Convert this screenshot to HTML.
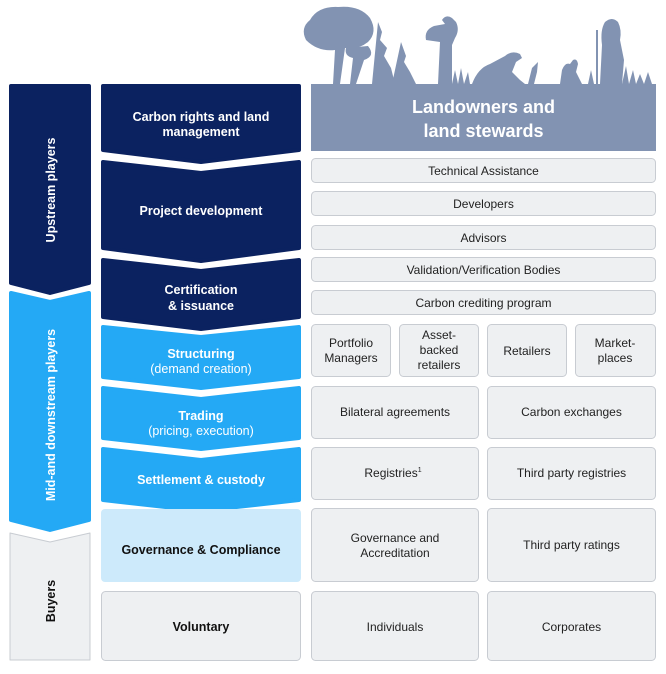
<!DOCTYPE html>
<html><head><meta charset="utf-8"><style>
html,body{margin:0;padding:0;background:#fff;}
svg{display:block;font-family:"Liberation Sans",sans-serif;}
</style></head><body>
<svg width="666" height="674" viewBox="0 0 666 674" xmlns="http://www.w3.org/2000/svg">
<g stroke-linejoin="round" stroke-width="4">
<path d="M11,86 L89,86 L89,283 L50,293 L11,283 Z" fill="#0b2260" stroke="#0b2260"/>
<path d="M11,293 L50,302 L89,293 L89,520 L50,530 L11,520 Z" fill="#24a9f5" stroke="#24a9f5"/>
<path d="M103,86 L299,86 L299,150 L201,162 L103,150 Z" fill="#0b2260" stroke="#0b2260"/>
<path d="M103,162 L201,173 L299,162 L299,248 L201,261 L103,248 Z" fill="#0b2260" stroke="#0b2260"/>
<path d="M103,260 L201,271 L299,260 L299,317 L201,329 L103,317 Z" fill="#0b2260" stroke="#0b2260"/>
<path d="M103,327 L201,337 L299,327 L299,377 L201,388 L103,377 Z" fill="#24a9f5" stroke="#24a9f5"/>
<path d="M103,388 L201,399 L299,388 L299,438 L201,449 L103,438 Z" fill="#24a9f5" stroke="#24a9f5"/>
<path d="M103,449 L201,460 L299,449 L299,500 L201,511 L103,500 Z" fill="#24a9f5" stroke="#24a9f5"/>
</g>
<path d="M10,533 L50,542 L90,533 L90,660 L10,660 Z" fill="#eef0f2" stroke="#c8ccd2" stroke-width="1" stroke-linejoin="round"/>
<rect x="101" y="509" width="200" height="73" rx="4" fill="#cdeafb"/>
<rect x="101.5" y="591.5" width="199" height="69" rx="4" fill="#eef0f2" stroke="#c8ccd2"/>

<rect x="311" y="84" width="345" height="67" fill="#8293b2"/>
<g fill="#8293b2">
<path d="M333,84 L335,50 Q318,52 306,40 Q300,28 310,20 Q318,6 338,7 Q360,5 370,18 Q378,32 368,42 Q358,50 345,48 L340,84 Z"/>
<path d="M350,84 L353,58 Q344,56 346,48 L368,46 Q376,56 364,60 L356,84 Z"/>
<path d="M372,84 L378,22 L382,32 L380,40 L387,48 L384,56 L391,68 L395,84 Z"/>
<path d="M392,84 L401,42 L406,56 L404,62 L410,72 L416,84 Z"/>
<path d="M438,84 L440,42 L426,40 Q424,30 434,26 L445,24 L442,20 Q446,14 452,18 L456,22 Q460,30 455,38 L452,45 L452,84 Z"/>
<path d="M472,84 Q478,68 490,64 L505,56 Q512,50 520,54 L522,58 L516,62 L512,72 L520,80 L525,84 Z"/>
<path d="M528,84 L532,68 L538,62 L537,72 L534,84 Z"/>
<path d="M560,84 L562,70 Q565,62 570,64 L573,60 Q577,58 578,64 L576,72 L582,84 Z"/>
<path d="M600,84 L602,45 Q600,30 605,22 Q612,16 618,22 Q622,30 620,40 L624,60 L622,84 Z"/>
<rect x="596" y="30" width="2" height="54"/>
<path d="M452,84 L455,70 L458,84 L461,68 L464,84 L468,72 L470,84 Z"/>
<path d="M622,84 L626,66 L629,84 L633,70 L636,84 L640,74 L644,84 L648,72 L652,84 Z"/>
<path d="M588,84 L591,70 L594,84 Z"/>
</g>
<text x="483.5" y="113" font-size="18" font-weight="bold" fill="#fff" text-anchor="middle">Landowners and</text>
<text x="483.5" y="137" font-size="18" font-weight="bold" fill="#fff" text-anchor="middle">land stewards</text>

<g fill="#eef0f2" stroke="#c8ccd2" stroke-width="1">
<rect x="311.5" y="158.5" width="344" height="24" rx="4"/>
<rect x="311.5" y="191.5" width="344" height="24" rx="4"/>
<rect x="311.5" y="225.5" width="344" height="24" rx="4"/>
<rect x="311.5" y="257.5" width="344" height="24" rx="4"/>
<rect x="311.5" y="290.5" width="344" height="24" rx="4"/>
<rect x="311.5" y="324.5" width="79" height="52" rx="4"/>
<rect x="399.5" y="324.5" width="79" height="52" rx="4"/>
<rect x="487.5" y="324.5" width="79" height="52" rx="4"/>
<rect x="575.5" y="324.5" width="80" height="52" rx="4"/>
<rect x="311.5" y="386.5" width="167" height="52" rx="4"/>
<rect x="487.5" y="386.5" width="168" height="52" rx="4"/>
<rect x="311.5" y="447.5" width="167" height="52" rx="4"/>
<rect x="487.5" y="447.5" width="168" height="52" rx="4"/>
<rect x="311.5" y="508.5" width="167" height="73" rx="4"/>
<rect x="487.5" y="508.5" width="168" height="73" rx="4"/>
<rect x="311.5" y="591.5" width="167" height="69" rx="4"/>
<rect x="487.5" y="591.5" width="168" height="69" rx="4"/>
</g>
<g font-size="12" fill="#222" text-anchor="middle">
<text x="483.5" y="175">Technical Assistance</text>
<text x="483.5" y="208">Developers</text>
<text x="483.5" y="242">Advisors</text>
<text x="483.5" y="274">Validation/Verification Bodies</text>
<text x="483.5" y="307">Carbon crediting program</text>
<text x="351" y="347">Portfolio</text><text x="351" y="362">Managers</text>
<text x="439" y="339">Asset-</text><text x="439" y="354">backed</text><text x="439" y="369">retailers</text>
<text x="527" y="355">Retailers</text>
<text x="615" y="347">Market-</text><text x="615" y="362">places</text>
<text x="395" y="416">Bilateral agreements</text>
<text x="571.5" y="416">Carbon exchanges</text>
<text x="393" y="477">Registries<tspan font-size="7" dy="-5">1</tspan></text>
<text x="571.5" y="477">Third party registries</text>
<text x="395" y="542">Governance and</text><text x="395" y="557">Accreditation</text>
<text x="571.5" y="549">Third party ratings</text>
<text x="395" y="631">Individuals</text>
<text x="571.5" y="631">Corporates</text>
</g>
<g font-size="12.5" font-weight="bold" fill="#fff" text-anchor="middle">
<text x="201" y="121">Carbon rights and land</text>
<text x="201" y="136">management</text>
<text x="201" y="215">Project development</text>
<text x="201" y="294">Certification</text>
<text x="201" y="310">&amp; issuance</text>
<text x="201" y="358">Structuring</text>
<text x="201" y="373" font-weight="normal">(demand creation)</text>
<text x="201" y="420">Trading</text>
<text x="201" y="435" font-weight="normal">(pricing, execution)</text>
<text x="201" y="484">Settlement &amp; custody</text>
</g>
<text x="201" y="554" font-size="12.5" font-weight="bold" fill="#111" text-anchor="middle">Governance &amp; Compliance</text>
<text x="201" y="631" font-size="12.5" font-weight="bold" fill="#111" text-anchor="middle">Voluntary</text>
<g font-size="12.5" font-weight="bold" text-anchor="middle">
<text transform="translate(55,190) rotate(-90)" fill="#fff">Upstream players</text>
<text transform="translate(55,415) rotate(-90)" fill="#fff">Mid-and downstream players</text>
<text transform="translate(55,601) rotate(-90)" fill="#111">Buyers</text>
</g>
</svg>
</body></html>
